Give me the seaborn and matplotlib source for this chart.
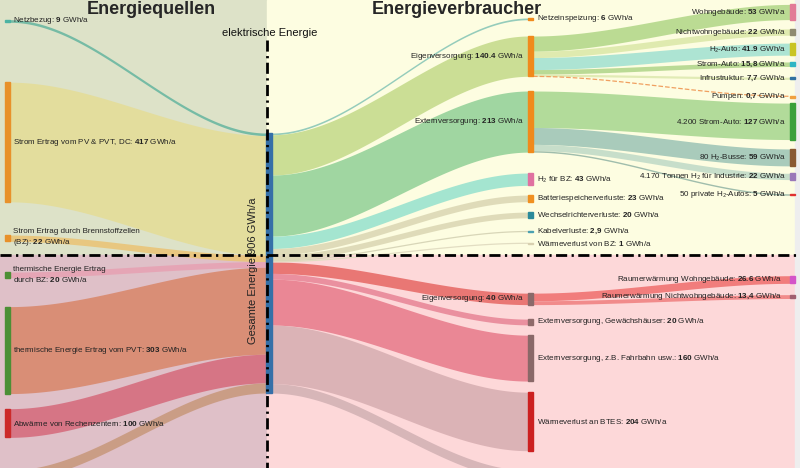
import numpy as np
import matplotlib.pyplot as plt
import seaborn as sns
from matplotlib.patches import Rectangle

# energy flows, GWh/a
src_names = ["Netzbezug", "Strom Ertrag vom PV & PVT, DC", "Strom Ertrag durch Brennstoffzellen\n(BZ)",
             "thermische Energie Ertrag\ndurch BZ", "thermische Energie Ertrag vom PVT",
             "Abwärme von Rechenzentern", ""]
src_vals = [9, 417, 22, 20, 303, 100, 35]

hub_label = "Gesamte Energie 906 GWh/a"
hub_total = 906

mid_names = ["Netzeinspeizung", "Eigenversorgung", "Externversorgung", "H₂ für BZ",
             "Batteriespeicherverluste", "Wechselrichterverluste", "Kabelverluste",
             "Wärmeverlust von BZ", "Eigenversorgung", "Externversorgung, Gewächshäuser",
             "Externversorgung, z.B. Fahrbahn usw.", "Wärmeverlust an BTES", ""]
mid_vals = [6, 140.4, 213, 43, 23, 20, 2.9, 1, 40, 20, 160, 204, 33]

end_names = ["Wohngebäude", "Nichtwohngebäude", "H₂-Auto", "Strom-Auto", "Infrustruktur", "Pumpen",
             "4.200 Strom-Auto", "80 H₂-Busse", "4.170 Tonnen H₂ für Industrie", "50 private H₂-Autos",
             "Raumerwärmung Wohngebäude", "Raumerwärmung Nichtwohngebäude"]
end_vals = [53, 22, 41.9, 15.8, 7.7, 0.7, 127, 59, 22, 5, 26.6, 13.4]
end_parent = [1, 1, 1, 1, 1, 1, 2, 2, 2, 2, 8, 8]

comma_dec = {"Strom-Auto", "Infrustruktur", "Pumpen", "Kabelverluste", "Raumerwärmung Nichtwohngebäude"}

# layout (pixels), the figure is 800 x 468
k = 260 / hub_total
x_src, x_hub, x_mid, x_end = 5, 266, 528, 790
bar_w, hub_w = 5, 6
hub_top = 133
src_gap = [19.7, 59.9, 33.2, 30.7, 28.8, 15.1, 32.7]
mid_gap = [18, 16.3, 14.7, 20.9, 9.7, 10.4, 13.3, 11.2, 49.7, 14.5, 10.3, 11.1, 19.5]
end_gap = [4.4, 9.3, 7.9, 6.8, 10.7, 16.8, 6.7, 9.4, 7.4, 14.2, 80.5, 11.3]

src_bar_col = ["#4bb3a3", "#e8912a", "#e8912a", "#4c8f35", "#4c8f35", "#cc2a2a", "#c99a80"]
src_flow_col = ["#6db8a2", "#e4dd9a", "#e9c57a", "#e6a3b4", "#d98a6f", "#d66f80", "#c99a80"]
mid_bar_col = ["#f08a1c", "#f08a1c", "#f08a1c", "#e071a0", "#f09020", "#2a8a9a", "#4aa0b0",
               "#d8d0b0", "#8a6a6a", "#8f6a6a", "#8a6868", "#cc2020", "#c0a0a0"]
mid_flow_col = ["#8cc8b8", "#c7dc8f", "#98d39c", "#9de3cf", "#ddd9b6", "#ddd9b6", "#d8d6b8",
                "#e2ddc2", "#e86f6c", "#e98a9a", "#e9808f", "#d9b0b3", "#d4b3b6"]
end_bar_col = ["#e27b97", "#8f8a70", "#c9c424", "#2fb5c4", "#3070a0", "#f0a040", "#3aa03a",
               "#8a5a32", "#9a78b8", "#e03030", "#d455c8", "#a06070"]
end_flow_col = ["#b6d98d", "#dde9ab", "#a6e2d2", "#b5d78f", "#dfeab2", "#f0a060", "#acd994",
                "#a2c7b8", "#c3dcc9", "#98b8a8", "#f07574", "#f08585"]

sns.set_theme(style="white")
plt.rcParams["font.family"] = ["Liberation Sans", "DejaVu Sans"]
plt.rcParams["mathtext.fontset"] = "custom"
plt.rcParams["mathtext.rm"] = "Liberation Sans"
plt.rcParams["mathtext.bf"] = "Liberation Sans:bold"
plt.rcParams["mathtext.default"] = "regular"


def stack(vals, gaps):
    tops, y = [], 0
    for v, g in zip(vals, gaps):
        y += g
        tops.append(y)
        y += v * k
    return tops


def flow(ax, xa, ya, xb, yb, h, color, dashed=False):
    x = np.linspace(xa, xb, 100)
    t = (x - xa) / (xb - xa)
    y = ya + (yb - ya) * t * t * (3 - 2 * t)
    if h < 1.2:
        ax.plot(x, y + h / 2, color=color, lw=0.9, ls="--" if dashed else "-", zorder=2)
    else:
        ax.fill_between(x, y, y + h, color=color, alpha=0.92, lw=0, zorder=1)


def label(name, val):
    num = f"{val:g}"
    if name in comma_dec:
        num = num.replace(".", "{,}")
    return f"{name}: $\\mathbf{{{num}}}$ GWh/a"


src_top = stack(src_vals, src_gap)
mid_top = stack(mid_vals, mid_gap)
end_top = stack(end_vals, end_gap)

fig = plt.figure(figsize=(8, 4.68), dpi=100)
ax = fig.add_axes([0, 0, 1, 1])
ax.set_xlim(0, 800)
ax.set_ylim(468, 0)
ax.axis("off")

# background panels
ax.add_patch(Rectangle((0, 0), 267, 255, color="#dde2c8", zorder=0))
ax.add_patch(Rectangle((267, 0), 528, 255, color="#fdfde1", zorder=0))
ax.add_patch(Rectangle((0, 255), 267, 213, color="#dfc0c8", zorder=0))
ax.add_patch(Rectangle((267, 255), 528, 213, color="#fdd8d9", zorder=0))
ax.add_patch(Rectangle((795, 0), 5, 468, color="#eeeeee", zorder=0))

# sources -> hub
y_in = hub_top
for i, v in enumerate(src_vals):
    h = v * k
    flow(ax, x_src + bar_w, src_top[i], x_hub, y_in, h, src_flow_col[i])
    ax.add_patch(Rectangle((x_src, src_top[i]), bar_w, max(h, 1.5), color=src_bar_col[i], zorder=3))
    if src_names[i]:
        ax.text(x_src + bar_w + 3, src_top[i] + h / 2, label(src_names[i], v), fontsize=5.8,
                ha="left", va="center", color="#222222", zorder=5, linespacing=1.3)
    y_in += h

# hub -> middle column
y_out = hub_top
for i, v in enumerate(mid_vals):
    h = v * k
    flow(ax, x_hub + hub_w, y_out, x_mid, mid_top[i], h, mid_flow_col[i])
    ax.add_patch(Rectangle((x_mid, mid_top[i]), bar_w, max(h, 1.2), color=mid_bar_col[i], zorder=3))
    if mid_names[i]:
        right = i in (1, 2, 8)
        ax.text(x_mid - 4 if right else x_mid + bar_w + 4, mid_top[i] + h / 2, label(mid_names[i], v),
                fontsize=5.8, ha="right" if right else "left", va="center", color="#222222", zorder=5)
    y_out += h

ax.add_patch(Rectangle((x_hub, hub_top), hub_w, hub_total * k, color="#3570a8", zorder=3))

# middle -> end column
offset = {p: mid_top[p] for p in set(end_parent)}
for i, v in enumerate(end_vals):
    h = v * k
    p = end_parent[i]
    flow(ax, x_mid + bar_w, offset[p], x_end, end_top[i], h, end_flow_col[i], dashed=(i == 5))
    offset[p] += h
    ax.add_patch(Rectangle((x_end, end_top[i]), bar_w, max(h, 1.5), color=end_bar_col[i], zorder=3))
    xr = x_end - 4 if i < 10 else x_end - 8
    ax.text(xr, end_top[i] + h / 2, label(end_names[i], v), fontsize=5.8,
            ha="right", va="center", color="#222222", zorder=5)

# separators
dash = (0, (4, 1.6, 0.8, 1.6))
ax.plot([267, 267], [40, 468], color="black", lw=2, ls=dash, zorder=4)
ax.plot([0, 797], [255, 255], color="black", lw=2, ls=dash, zorder=4)

ax.text(253, 271, hub_label, rotation=90, fontsize=8, ha="center", va="center", color="#222222", zorder=5)
ax.text(270, 33, "elektrische Energie", fontsize=8, ha="center", va="center", color="#111111", zorder=5)
ax.text(151, 14.5, "Energiequellen", fontsize=13, fontweight="bold", ha="center", va="baseline", zorder=5)
ax.text(457, 14.5, "Energieverbraucher", fontsize=13, fontweight="bold", ha="center", va="baseline", zorder=5)

fig.savefig("out.png", dpi=100)
